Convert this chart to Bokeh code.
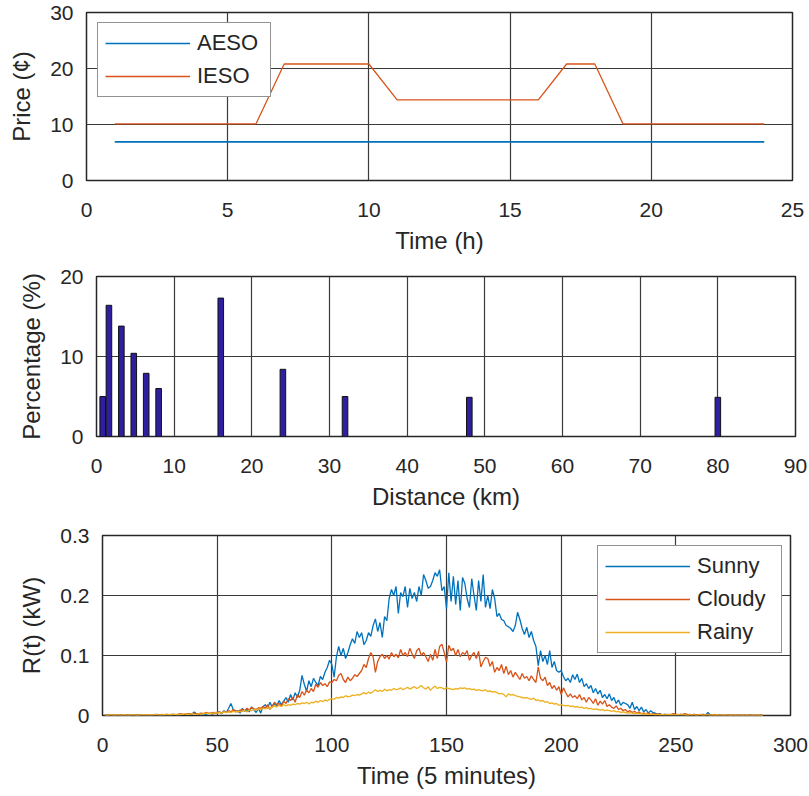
from bokeh.plotting import figure
from bokeh.models import Range1d, FixedTicker, CustomJSTickFormatter, ColumnDataSource
from bokeh.embed import file_html
from bokeh.resources import INLINE

# ---------------- data ----------------
hours = list(range(1, 25))
aeso = [6.9] * 24
ieso = [10.1, 10.1, 10.1, 10.1, 10.1, 10.1, 20.8, 20.8, 20.8, 20.8, 14.4, 14.4,
        14.4, 14.4, 14.4, 14.4, 20.8, 20.8, 10.1, 10.1, 10.1, 10.1, 10.1, 10.1]

distance_km = [0.8, 1.6, 3.2, 4.8, 6.4, 8.0, 16, 24, 32, 48, 80]
percentage = [5.0, 16.4, 13.8, 10.4, 7.9, 6.0, 17.3, 8.4, 5.0, 4.9, 4.9]

t5min = list(range(1, 289))
sunny = [
    0.001, 0.000, 0.001, 0.001, 0.000, 0.001, 0.000, 0.001, 0.001, 0.000,
    0.001, 0.001, 0.000, 0.001, 0.000, 0.001, 0.001, 0.000, 0.001, 0.001,
    0.000, 0.001, 0.001, 0.002, 0.001, 0.000, 0.001, 0.002, 0.001, 0.001,
    0.002, 0.001, 0.002, 0.001, 0.002, 0.002, 0.001, 0.003, 0.002, 0.006,
    0.003, 0.002, 0.001, 0.003, 0.002, 0.003, 0.004, 0.002, 0.005, 0.004,
    0.006, 0.003, 0.008, 0.005, 0.012, 0.020, 0.010, 0.006, 0.008, 0.004,
    0.012, 0.007, 0.010, 0.006, 0.014, 0.010, 0.005, 0.012, 0.004, 0.015,
    0.018, 0.012, 0.022, 0.014, 0.020, 0.016, 0.025, 0.018, 0.024, 0.030,
    0.022, 0.035, 0.026, 0.038, 0.030, 0.042, 0.067, 0.052, 0.040, 0.058,
    0.048, 0.062, 0.055, 0.050, 0.065, 0.060, 0.072, 0.080, 0.092, 0.085,
    0.064, 0.098, 0.115, 0.100, 0.112, 0.095, 0.105, 0.118, 0.128, 0.120,
    0.140, 0.130, 0.138, 0.118, 0.125, 0.138, 0.132, 0.150, 0.161, 0.140,
    0.155, 0.130, 0.165, 0.158, 0.195, 0.210, 0.200, 0.215, 0.170, 0.205,
    0.198, 0.215, 0.180, 0.212, 0.195, 0.205, 0.190, 0.215, 0.200, 0.235,
    0.225, 0.212, 0.215, 0.225, 0.238, 0.232, 0.243, 0.208, 0.215, 0.178,
    0.238, 0.190, 0.232, 0.185, 0.225, 0.175, 0.230, 0.220, 0.195, 0.180,
    0.228, 0.200, 0.175, 0.225, 0.190, 0.235, 0.180, 0.200, 0.178, 0.210,
    0.195, 0.165, 0.170, 0.160, 0.158, 0.150, 0.148, 0.145, 0.140, 0.150,
    0.172, 0.160, 0.145, 0.135, 0.147, 0.130, 0.140, 0.125, 0.115, 0.083,
    0.108, 0.090, 0.100, 0.085, 0.108, 0.080, 0.090, 0.075, 0.072, 0.075,
    0.065, 0.058, 0.062, 0.055, 0.068, 0.060, 0.069, 0.055, 0.062, 0.048,
    0.053, 0.045, 0.050, 0.038, 0.045, 0.036, 0.042, 0.030, 0.035, 0.028,
    0.036, 0.025, 0.030, 0.020, 0.026, 0.017, 0.022, 0.020, 0.018, 0.012,
    0.022, 0.010, 0.015, 0.008, 0.014, 0.006, 0.010, 0.004, 0.008, 0.005,
    0.004, 0.002, 0.003, 0.001, 0.002, 0.001, 0.002, 0.001, 0.001, 0.002,
    0.001, 0.002, 0.001, 0.001, 0.002, 0.001, 0.001, 0.002, 0.001, 0.001,
    0.001, 0.002, 0.001, 0.005, 0.001, 0.000, 0.001, 0.000, 0.001, 0.000,
    0.000, 0.001, 0.000, 0.000, 0.001, 0.000, 0.000, 0.001, 0.000, 0.000,
    0.000, 0.001, 0.000, 0.000, 0.001, 0.000, 0.000, 0.000,
]
cloudy = [
    0.001, 0.001, 0.000, 0.001, 0.001, 0.000, 0.001, 0.001, 0.000, 0.001,
    0.001, 0.000, 0.001, 0.001, 0.001, 0.000, 0.001, 0.001, 0.001, 0.000,
    0.001, 0.001, 0.002, 0.001, 0.001, 0.002, 0.001, 0.002, 0.001, 0.002,
    0.002, 0.001, 0.002, 0.003, 0.002, 0.002, 0.003, 0.002, 0.003, 0.004,
    0.002, 0.003, 0.004, 0.003, 0.005, 0.004, 0.003, 0.005, 0.004, 0.005,
    0.006, 0.004, 0.007, 0.005, 0.008, 0.006, 0.010, 0.008, 0.006, 0.009,
    0.010, 0.008, 0.012, 0.009, 0.014, 0.011, 0.010, 0.013, 0.012, 0.015,
    0.012, 0.018, 0.010, 0.016, 0.022, 0.018, 0.020, 0.015, 0.024, 0.020,
    0.028, 0.025, 0.030, 0.022, 0.035, 0.030, 0.040, 0.034, 0.042, 0.038,
    0.045, 0.040, 0.052, 0.047, 0.055, 0.050, 0.053, 0.048, 0.056, 0.055,
    0.060, 0.058, 0.067, 0.070, 0.060, 0.055, 0.064, 0.058, 0.062, 0.068,
    0.065, 0.070, 0.075, 0.085, 0.080, 0.095, 0.105, 0.098, 0.072, 0.090,
    0.098, 0.102, 0.095, 0.100, 0.094, 0.105, 0.098, 0.102, 0.096, 0.110,
    0.100, 0.105, 0.098, 0.112, 0.103, 0.095, 0.108, 0.112, 0.100, 0.105,
    0.098, 0.090, 0.102, 0.092, 0.110, 0.095, 0.115, 0.119, 0.105, 0.089,
    0.117, 0.108, 0.112, 0.100, 0.110, 0.098, 0.105, 0.102, 0.108, 0.092,
    0.100, 0.105, 0.095, 0.107, 0.081, 0.090, 0.097, 0.095, 0.082, 0.090,
    0.072, 0.080, 0.075, 0.085, 0.070, 0.082, 0.068, 0.075, 0.064, 0.072,
    0.066, 0.060, 0.070, 0.062, 0.065, 0.058, 0.066, 0.060, 0.055, 0.081,
    0.062, 0.058, 0.064, 0.050, 0.055, 0.045, 0.050, 0.042, 0.048, 0.035,
    0.046, 0.038, 0.031, 0.036, 0.030, 0.033, 0.028, 0.035, 0.026, 0.030,
    0.022, 0.030, 0.026, 0.020, 0.028, 0.017, 0.024, 0.019, 0.025, 0.015,
    0.018, 0.014, 0.012, 0.016, 0.010, 0.012, 0.008, 0.010, 0.006, 0.008,
    0.005, 0.007, 0.004, 0.006, 0.003, 0.004, 0.003, 0.004, 0.002, 0.003,
    0.002, 0.003, 0.002, 0.001, 0.002, 0.002, 0.001, 0.002, 0.003, 0.002,
    0.001, 0.002, 0.002, 0.003, 0.001, 0.002, 0.001, 0.002, 0.001, 0.001,
    0.002, 0.001, 0.001, 0.002, 0.001, 0.001, 0.001, 0.000, 0.001, 0.001,
    0.000, 0.001, 0.001, 0.000, 0.001, 0.000, 0.001, 0.000, 0.000, 0.001,
    0.000, 0.000, 0.001, 0.000, 0.000, 0.000, 0.001, 0.000,
]
rainy = [
    0.001, 0.000, 0.001, 0.001, 0.000, 0.001, 0.001, 0.000, 0.001, 0.001,
    0.000, 0.001, 0.001, 0.001, 0.000, 0.001, 0.001, 0.001, 0.001, 0.001,
    0.001, 0.001, 0.002, 0.001, 0.001, 0.001, 0.002, 0.001, 0.002, 0.001,
    0.002, 0.002, 0.001, 0.002, 0.002, 0.003, 0.002, 0.002, 0.003, 0.002,
    0.002, 0.003, 0.002, 0.003, 0.004, 0.003, 0.004, 0.003, 0.005, 0.004,
    0.005, 0.004, 0.006, 0.005, 0.006, 0.005, 0.007, 0.006, 0.007, 0.006,
    0.007, 0.008, 0.006, 0.009, 0.008, 0.010, 0.009, 0.011, 0.010, 0.012,
    0.011, 0.013, 0.012, 0.014, 0.016, 0.014, 0.017, 0.015, 0.018, 0.016,
    0.018, 0.017, 0.019, 0.018, 0.020, 0.019, 0.021, 0.020, 0.022, 0.019,
    0.022, 0.021, 0.024, 0.022, 0.025, 0.023, 0.026, 0.024, 0.027, 0.028,
    0.027, 0.030, 0.029, 0.031, 0.030, 0.033, 0.031, 0.032, 0.034, 0.033,
    0.035, 0.034, 0.036, 0.038, 0.036, 0.039, 0.037, 0.040, 0.043, 0.040,
    0.042, 0.040, 0.044, 0.041, 0.043, 0.042, 0.045, 0.043, 0.044, 0.046,
    0.043, 0.045, 0.047, 0.044, 0.046, 0.048, 0.045, 0.047, 0.050, 0.046,
    0.044, 0.048, 0.042, 0.046, 0.049, 0.045, 0.047, 0.046, 0.044, 0.046,
    0.045, 0.044, 0.043, 0.045, 0.044, 0.046, 0.045, 0.046, 0.044, 0.045,
    0.043, 0.044, 0.042, 0.043, 0.042, 0.041, 0.043, 0.040, 0.041, 0.039,
    0.040, 0.038, 0.036, 0.037, 0.035, 0.031, 0.036, 0.034, 0.035, 0.033,
    0.032, 0.031, 0.030, 0.029, 0.030, 0.028, 0.027, 0.029, 0.025, 0.026,
    0.024, 0.025, 0.022, 0.023, 0.020, 0.021, 0.019, 0.020, 0.017, 0.018,
    0.017, 0.016, 0.017, 0.015, 0.016, 0.014, 0.015, 0.013, 0.014, 0.012,
    0.013, 0.011, 0.012, 0.010, 0.011, 0.010, 0.009, 0.010, 0.008, 0.009,
    0.008, 0.007, 0.008, 0.006, 0.007, 0.005, 0.006, 0.005, 0.004, 0.005,
    0.004, 0.003, 0.004, 0.003, 0.003, 0.002, 0.003, 0.002, 0.002, 0.002,
    0.001, 0.002, 0.001, 0.002, 0.001, 0.001, 0.002, 0.001, 0.001, 0.001,
    0.002, 0.001, 0.001, 0.001, 0.000, 0.001, 0.001, 0.001, 0.000, 0.001,
    0.001, 0.000, 0.001, 0.001, 0.000, 0.001, 0.000, 0.001, 0.000, 0.001,
    0.000, 0.001, 0.000, 0.000, 0.001, 0.000, 0.000, 0.001, 0.000, 0.000,
    0.001, 0.000, 0.000, 0.000, 0.001, 0.000, 0.000, 0.000,
]

x1_ticks = [0, 5, 10, 15, 20, 25]
y1_ticks = [0, 10, 20, 30]
x2_ticks = [0, 10, 20, 30, 40, 50, 60, 70, 80, 90]
y2_ticks = [0, 10, 20]
x3_ticks = [0, 50, 100, 150, 200, 250, 300]
y3_ticks = [0, 0.1, 0.2, 0.3]

# ---------------- styling helpers ----------------
FONT = "Liberation Sans"
TXT = "#262626"
BLUE, ORANGE, YELLOW = "#0072BD", "#D95319", "#EDB120"


def make_fig(height, left, right, top, bottom, xr, yr, xt, yt, xlabel, ylabel):
    p = figure(width=809, height=height, output_backend="svg", toolbar_location=None,
               x_range=Range1d(*xr), y_range=Range1d(*yr),
               min_border_left=left, min_border_right=right,
               min_border_top=top, min_border_bottom=bottom,
               background_fill_color="white", border_fill_color="white")
    p.outline_line_color = TXT
    p.outline_line_width = 1.5
    p.outline_line_alpha = 1.0
    for ax, ticks, lab in ((p.xaxis, xt, xlabel), (p.yaxis, yt, ylabel)):
        ax.ticker = FixedTicker(ticks=ticks)
        ax.formatter = CustomJSTickFormatter(code="return String(Math.round(tick*1000)/1000);")
        ax.axis_label = lab
        ax.axis_label_text_font = FONT
        ax.axis_label_text_font_size = "24px"
        ax.axis_label_text_font_style = "normal"
        ax.axis_label_text_color = TXT
        ax.major_label_text_font = FONT
        ax.major_label_text_font_size = "21px"
        ax.major_label_text_color = TXT
        ax.major_tick_out = 0
        ax.major_tick_in = 0
        ax.minor_tick_out = 0
        ax.minor_tick_in = 0
        ax.axis_line_color = None
    p.xaxis.major_label_standoff = 22
    p.xaxis.axis_label_standoff = 7
    p.yaxis.major_label_standoff = 13
    p.yaxis.axis_label_standoff = 12
    p.xgrid.ticker = FixedTicker(ticks=xt)
    p.ygrid.ticker = FixedTicker(ticks=yt)
    for g in (p.xgrid, p.ygrid):
        g.grid_line_color = "#3a3a3a"
        g.grid_line_width = 1.2
        g.grid_line_alpha = 1.0
    return p


def style_legend(p, loc, label_w):
    lg = p.legend[0]
    lg.location = loc
    lg.label_text_font = FONT
    lg.label_text_font_size = "22px"
    lg.label_text_color = TXT
    lg.border_line_color = TXT
    lg.border_line_width = 1.2
    lg.background_fill_color = "white"
    lg.background_fill_alpha = 1.0
    lg.glyph_width = 85
    lg.glyph_height = 24
    lg.label_height = 24
    lg.label_width = label_w
    lg.spacing = 7
    lg.padding = 7
    lg.margin = 0
    lg.label_standoff = 7


# ---------------- panel 1 ----------------
p1 = make_fig(260, 86, 17, 12, 80, (0, 25), (0, 30), x1_ticks, y1_ticks, "Time (h)", "Price (¢)")
src1 = ColumnDataSource(dict(h=hours, aeso=aeso, ieso=ieso))
p1.line("h", "aeso", source=src1, color=BLUE, line_width=1.6, legend_label="AESO")
p1.line("h", "ieso", source=src1, color=ORANGE, line_width=1.3, legend_label="IESO")
style_legend(p1, (11, 83), 66)

# ---------------- panel 2 ----------------
p2 = make_fig(260, 96, 14, 16, 84, (0, 90), (0, 20), x2_ticks, y2_ticks, "Distance (km)", "Percentage (%)")
src2 = ColumnDataSource(dict(d=distance_km, pct=percentage))
p2.vbar(x="d", top="pct", bottom=0, width=0.72, source=src2,
        fill_color="#2e1f9e", line_color="#111111", line_width=1)

# ---------------- panel 3 ----------------
p3 = make_fig(276, 102, 19, 15, 81, (0, 300), (0, 0.3), x3_ticks, y3_ticks, "Time (5 minutes)", "R(t) (kW)")
src3 = ColumnDataSource(dict(t=t5min, sunny=sunny, cloudy=cloudy, rainy=rainy))
p3.line("t", "sunny", source=src3, color=BLUE, line_width=1.3, legend_label="Sunny")
p3.line("t", "cloudy", source=src3, color=ORANGE, line_width=1.3, legend_label="Cloudy")
p3.line("t", "rainy", source=src3, color=YELLOW, line_width=1.3, legend_label="Rainy")
style_legend(p3, (495, 62), 77)

open("out.html", "w").write(file_html([p1, p2, p3], INLINE))
